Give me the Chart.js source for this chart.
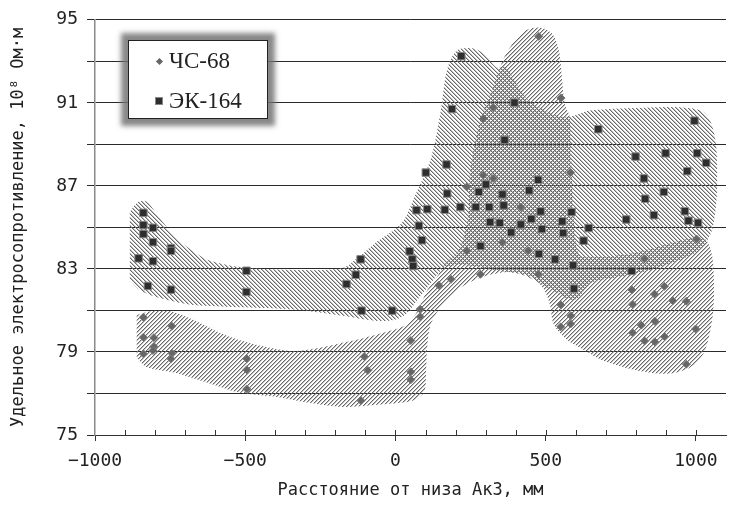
<!DOCTYPE html>
<html lang="ru">
<head>
<meta charset="UTF-8">
<title>Удельное электросопротивление</title>
<script src="https://cdn.jsdelivr.net/npm/chart.js"></script>
<style>
    body { margin: 0; background: #fff; }
    #wrap { position: relative; width: 736px; height: 505px; }
    #legend {
        position: absolute; left: 128px; top: 40px; width: 138px; height: 77px;
        background: #fff; border: 1px solid #222;
        box-shadow: 0 0 5px 7px rgba(115, 115, 115, 0.85);
        font-family: 'Liberation Serif', serif; font-size: 23px; color: #222;
    }
    .item { position: absolute; left: 0; height: 24px; display: flex; align-items: center; }
    .dia { width: 5px; height: 5px; background: #666; transform: rotate(45deg); margin-left: 28px; margin-right: 7px; }
    .sq { width: 8px; height: 8px; background: #2e2e2e; border: 1px solid #888; box-sizing: border-box; margin-left: 26px; margin-right: 6px; }
</style>
</head>
<body>
<div id="wrap">
    <canvas id="chart"></canvas>
    <div id="legend">
        <div class="item" style="top:8px"><span class="dia"></span>ЧС-68</div>
        <div class="item" style="top:48px"><span class="sq"></span>ЭК-164</div>
    </div>
</div>
<script>
    // ЧС-68 measurements
    const chsX = [-839, -839, -804, -744, -804, -807, -839, -744, -747, -495, -495, -495,
        -115, -104, -92, 51, 51, 51, 82, 82, 144, 185, 237, 237, 283, 293, 292, 325, 325, 355,
        417, 442, 475, 477, 551, 583, 551, 584, 583, 550,
        829, 1002, 787, 895, 862, 923, 968, 789, 818, 863, 789, 999, 829, 863, 895, 968];
    const chsY = [80.67, 79.71, 79.69, 80.24, 79.26, 79.07, 78.91, 78.94, 78.67, 78.67, 78.14, 77.21,
        76.66, 78.78, 78.11, 79.55, 78.04, 77.66, 81.06, 80.70, 82.21, 82.50, 86.95, 83.86, 82.74, 90.24, 87.51, 90.78, 87.36, 84.28,
        85.98, 83.88, 82.75, 94.20, 91.23, 87.64, 81.26, 80.74, 80.35, 80.21,
        83.49, 84.44, 81.99, 82.16, 81.79, 81.47, 81.44, 81.30, 80.29, 80.48, 79.92, 80.11, 79.53, 79.49, 79.74, 78.41];

    // ЭК-164 measurements
    const ekX = [-839, -839, -807, -839, -807, -747, -747, -855, -807, -824, -747, -496, -496,
        -163, -132, -116, -113, -11, 47, 56, 59, 70, 78, 88, 101, 106, 164, 170, 172, 188,
        216, 219, 267, 277, 283, 301, 312, 315, 347, 356, 360, 363, 385, 396, 417, 445, 452,
        475, 477, 483, 487, 531, 555, 558, 586, 591, 594, 626, 643,
        675, 768, 786, 799, 827, 831, 860, 893, 899, 963, 971, 975, 995, 1004, 1007, 1034];
    const ekY = [85.70, 85.11, 84.98, 84.68, 84.29, 84.00, 83.87, 83.51, 83.37, 82.18, 82.00, 82.91, 81.89,
        82.27, 82.72, 83.46, 80.99, 80.99, 83.85, 83.46, 83.14, 85.83, 85.08, 84.38, 87.64, 85.88, 85.85, 88.03, 86.63, 90.70,
        85.98, 93.25, 85.98, 86.71, 84.10, 87.07, 85.98, 85.25, 85.22, 86.59, 86.06, 89.21, 84.76, 91.01, 85.14, 86.78, 85.41,
        87.29, 83.72, 85.77, 84.92, 83.46, 85.29, 84.73, 85.74, 83.17, 82.05, 84.36, 84.97,
        89.73, 85.38, 82.90, 88.41, 87.36, 86.38, 85.59, 86.71, 88.57, 85.78, 87.71, 85.32, 90.14, 88.57, 85.22, 88.11];

    // envelope of ЧС-68 (upper and lower edge)
    const chsUpX = [-862, -810, -754, -679, -567, -460, -329, -176, -68, 30, 63, 86, 106, 138, 161, 210, 240, 249,
        282, 325, 357, 390, 433, 479, 521, 544, 554, 563, 580, 586, 596, 612, 661, 792, 956, 1002, 1034, 1054, 1061];
    const chsUpY = [80.78, 80.97, 80.97, 80.59, 79.82, 79.34, 79.05, 79.44, 79.82, 80.26, 80.74, 81.36, 81.99, 82.61, 83.18, 83.90, 85.35, 87.75,
        90.15, 91.75, 93.04, 93.86, 94.49, 94.63, 94.34, 93.52, 92.22, 90.97, 90.30, 87.75, 84.87, 83.67, 83.57, 83.76, 84.39, 84.53, 84.39, 83.62, 82.23];
    const chsLowX = [-862, -829, -731, -623, -516, -395, -287, -176, -68, 14, 63, 96, 102, 106, 119, 161, 217, 269,
        325, 380, 456, 495, 514, 527, 570, 636, 684, 792, 903, 979, 1028, 1054, 1061];
    const chsLowY = [78.76, 78.28, 77.99, 77.51, 77.03, 76.83, 76.55, 76.35, 76.45, 76.55, 76.69, 77.08, 78.14, 79.34, 80.40, 81.36, 82.10, 82.50,
        82.75, 82.85, 82.61, 81.98, 81.28, 80.32, 79.60, 79.02, 78.62, 78.14, 77.95, 78.24, 79.01, 80.54, 81.74];

    // envelope of ЭК-164
    const ekUpX = [-885, -859, -829, -787, -732, -679, -624, -516, -329, -176, -123, -68, 21, 63, 119, 151, 171, 204,
        259, 302, 335, 367, 390, 433, 479, 564, 652, 848, 956, 1022, 1051, 1067, 1071];
    const ekUpY = [85.72, 86.20, 86.25, 85.49, 84.53, 83.91, 83.43, 83.09, 82.95, 83.04, 83.57, 84.24, 85.21, 86.46, 88.38, 90.64, 92.56, 93.52,
        93.62, 93.28, 92.71, 92.71, 92.22, 91.26, 90.78, 90.30, 90.64, 90.78, 90.78, 90.59, 90.01, 88.96, 87.52];
    const ekLowX = [-885, -852, -787, -679, -567, -460, -329, -176, -68, -2, 40, 73, 119, 161, 226, 325, 423, 521,
        596, 652, 740, 848, 946, 1011, 1051, 1067, 1071];
    const ekLowY = [82.47, 81.99, 81.61, 81.27, 81.18, 81.13, 81.03, 80.74, 80.50, 80.55, 80.89, 81.51, 82.33, 83.05, 83.19, 82.95, 82.71, 81.99,
        81.51, 82.33, 82.61, 82.95, 83.43, 83.91, 84.77, 86.07, 87.04];

    const xLabelEvery = 500;
    const yLabelEvery = 4;

    function pts(xs, ys) {
        return xs.map((x, i) => ({x: x, y: ys[i]}));
    }

    // pixel diagonal hatching, one stripe every 4px
    function hatch(dir) {
        const s = 4;
        const c = document.createElement('canvas');
        c.width = s;
        c.height = s;
        const g = c.getContext('2d');
        const img = g.createImageData(s, s);
        for (let y = 0; y < s; y++) {
            for (let x = 0; x < s; x++) {
                const d = dir === '/' ? (x + y) % s : (x - y + s) % s;
                const i = (y * s + x) * 4;
                img.data[i] = img.data[i + 1] = img.data[i + 2] = 105;
                img.data[i + 3] = d === 0 ? 255 : (d === 1 ? 110 : 0);
            }
        }
        g.putImageData(img, 0, 0);
        return g.createPattern(c, 'repeat');
    }

    function edge(data, fill, pattern) {
        return {
            data: data,
            showLine: true,
            borderWidth: 0,
            borderColor: 'rgba(0,0,0,0)',
            pointRadius: 0,
            pointHitRadius: 0,
            tension: 0.3,
            fill: fill,
            backgroundColor: pattern || 'rgba(0,0,0,0)'
        };
    }

    // small tick marks above the x axis, like the original
    const innerTicks = {
        id: 'innerTicks',
        afterDatasetsDraw(chart) {
            const {ctx, chartArea, scales} = chart;
            const x = scales.x;
            ctx.save();
            ctx.strokeStyle = '#333';
            ctx.lineWidth = 1;
            ctx.beginPath();
            x.ticks.forEach(t => {
                if (t.value <= -1000 || t.value >= 1100) return;
                const px = Math.round(x.getPixelForValue(t.value)) + 0.5;
                ctx.moveTo(px, chartArea.bottom);
                ctx.lineTo(px, chartArea.bottom - 5);
            });
            ctx.stroke();
            ctx.restore();
        }
    };

    const mono = 'DejaVu Sans Mono';

    new Chart(document.getElementById('chart'), {
        type: 'line',
        data: {
            datasets: [
                {
                    label: 'ЧС-68', data: pts(chsX, chsY), showLine: false, fill: false,
                    pointStyle: 'rectRot', pointRadius: 4, backgroundColor: '#666', borderColor: '#7a7a7a', borderWidth: 1
                },
                {
                    label: 'ЭК-164', data: pts(ekX, ekY), showLine: false, fill: false,
                    pointStyle: 'rect', pointRadius: 5.3, backgroundColor: '#2e2e2e', borderColor: '#888', borderWidth: 1
                },
                edge(pts(chsLowX, chsLowY), false),
                edge(pts(chsUpX, chsUpY), '-1', hatch('/')),
                edge(pts(ekLowX, ekLowY), false),
                edge(pts(ekUpX, ekUpY), '-1', hatch('\\'))
            ]
        },
        options: {
            responsive: true,
            maintainAspectRatio: false,
            animation: false,
            events: [],
            layout: {padding: {top: 19, right: 0, bottom: 0, left: 0}},
            plugins: {legend: {display: false}, tooltip: {enabled: false}},
            scales: {
                x: {
                    type: 'linear', min: -1000, max: 1100,
                    afterFit: s => { s.height = 70; },
                    ticks: {
                        stepSize: 100, autoSkip: false, maxRotation: 0, padding: 10, color: '#222',
                        font: {family: mono, size: 18},
                        callback: v => v % xLabelEvery === 0 ? String(v).replace('-', '\u2212') : ''
                    },
                    grid: {
                        drawOnChartArea: false, drawTicks: true, tickLength: 6,
                        tickColor: c => (c.tick && c.tick.value % xLabelEvery === 0) ? '#333' : 'rgba(0,0,0,0)'
                    },
                    border: {color: '#333', width: 1},
                    title: {
                        display: true, text: 'Расстояние от низа Ак3, мм', color: '#222',
                        font: {family: mono, size: 17}, padding: {top: 0, bottom: 4}
                    }
                },
                y: {
                    min: 75, max: 95,
                    afterFit: s => { s.width = 95; },
                    ticks: {
                        stepSize: 2, padding: 9, color: '#222', font: {family: mono, size: 18},
                        callback: v => (v - 75) % yLabelEvery === 0 ? v : ''
                    },
                    grid: {color: '#2a2a2a', lineWidth: 1, tickLength: 8, tickColor: '#2a2a2a'},
                    border: {color: '#8a8a8a', width: 1.5},
                    title: {
                        display: true, text: 'Удельное электросопротивление, 10\u2078 Ом\u00b7м', color: '#222',
                        font: {family: mono, size: 17}, padding: {top: 8, bottom: 0}
                    }
                }
            }
        },
        plugins: [innerTicks]
    });
</script>
</body>
</html>
